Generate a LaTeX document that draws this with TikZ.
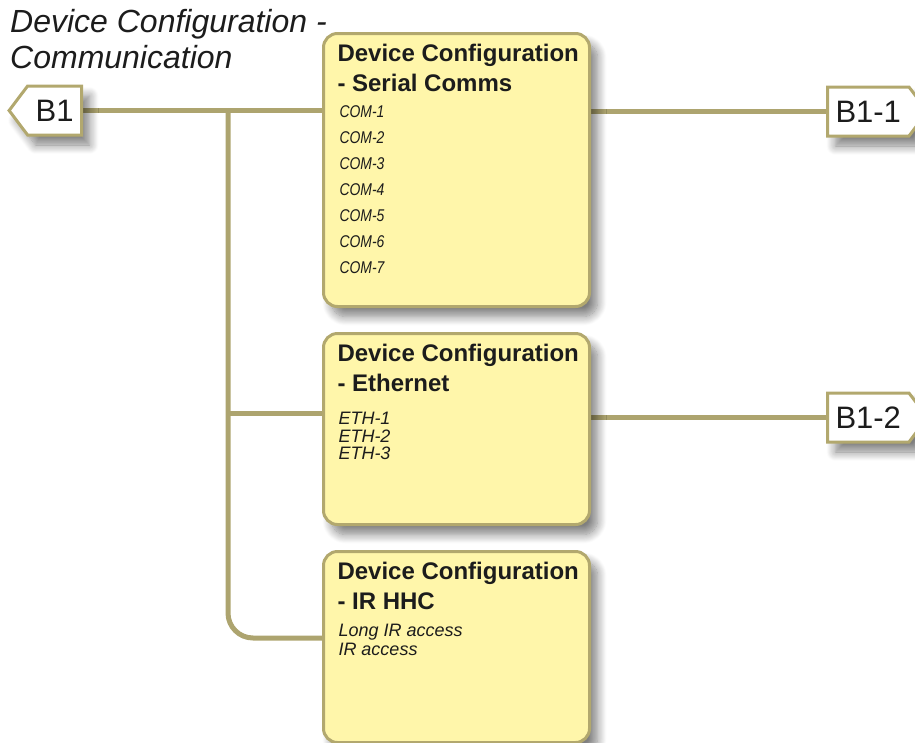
\documentclass[tikz,border=0pt]{standalone}
\usepackage{fontspec}
\setmainfont{Liberation Sans}
\newfontfamily\narrowsans[FakeStretch=0.82]{Liberation Sans}
\usepackage{xcolor}
\usetikzlibrary{positioning,shapes.symbols,shadows.blur,backgrounds}
\definecolor{wirecol}{HTML}{ADA46F}
\definecolor{boxfill}{HTML}{FFF6AA}
\definecolor{boxline}{HTML}{B2A86E}
\definecolor{inkcol}{HTML}{1C1C1C}

\newcommand{\cfghead}[1]{{\raggedright\bfseries\fontsize{24}{29.5}\selectfont\mbox{Device Configuration}\\\mbox{- #1}\par}}

\begin{document}
\begin{tikzpicture}[x=1pt,y=1pt,every node/.style={inner sep=0pt,text=inkcol}, cfgbox/.style={draw=boxline,line width=3pt,fill=boxfill,rounded corners=14pt,minimum width=266pt,inner xsep=14pt,inner ysep=11pt,align=left,blur shadow={shadow xshift=8pt,shadow yshift=-10pt,shadow blur radius=9pt,shadow opacity=50,shadow blur steps=12}}, tagbox/.style={signal,draw=boxline,line width=3pt,fill=white,font=\fontsize{31}{31}\selectfont,minimum height=49pt,inner xsep=8pt,signal pointer angle=106,blur shadow={shadow xshift=8pt,shadow yshift=-10pt,shadow blur radius=9pt,shadow opacity=50,shadow blur steps=12}}, wire/.style={draw=wirecol,line width=5pt}]
\useasboundingbox (0,0) rectangle (915,-742);
\node[font=\itshape\fontsize{32}{36}\selectfont,align=left,anchor=north west] (title) at (10,-9) {Device Configuration -\\Communication};
\node[tagbox,signal to=west,anchor=east] (b1) at (83,-110.5) {B1};
\node[tagbox,signal to=east,anchor=west] (b11) at (826,-111.5) {B1-1};
\node[tagbox,signal to=east,anchor=west] (b12) at (826,-417.5) {B1-2};
\node[cfgbox,anchor=north west] (ser) at (322,-32) {\parbox[t][251pt][t]{238pt}{\cfghead{Serial Comms}{\narrowsans\itshape\fontsize{17}{26}\selectfont\leftskip=2pt COM-1\\COM-2\\COM-3\\COM-4\\COM-5\\COM-6\\COM-7\par}}};
\node[cfgbox,below=24pt of ser] (eth) {\parbox[t][169pt][t]{238pt}{\cfghead{Ethernet}\vspace{16pt}{\itshape\fontsize{18}{17.5}\selectfont\leftskip=1pt ETH-1\\ETH-2\\ETH-3\par}}};
\node[cfgbox,below=24pt of eth] (ir) {\parbox[t][169pt][t]{238pt}{\cfghead{IR HHC}\vspace{8.5pt}{\itshape\fontsize{18}{19}\selectfont\leftskip=1pt Long IR access\\IR access\par}}};
\coordinate (jn) at ([xshift=145pt]b1.east);
\coordinate (ethIn) at ([yshift=-81pt]eth.north west);
\coordinate (irIn) at ([yshift=-88pt]ir.north west);
\begin{scope}[on background layer]
\draw[wire] (b1.east) -- (b1.east -| ser.west);
\draw[wire,rounded corners=25pt] (jn) |- (irIn);
\draw[wire] (jn |- ethIn) -- (ethIn);
\draw[wire] (ser.east |- b11.west) -- (b11.west);
\draw[wire] (eth.east |- b12.west) -- (b12.west);
\end{scope}
\end{tikzpicture}
\end{document}
